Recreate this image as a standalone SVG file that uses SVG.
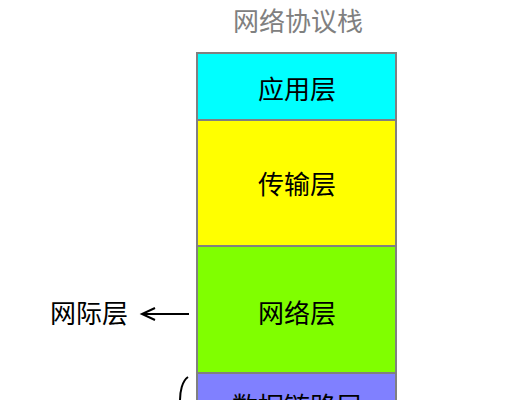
<svg xmlns="http://www.w3.org/2000/svg" width="521" height="400" viewBox="0 0 521 400">
<style>
.t{font-family:"Noto Sans CJK SC","Noto Sans CJK JP",sans-serif;font-size:26px;fill:#000;text-anchor:middle}
.layer{stroke:#808080;stroke-width:2}
</style>
<rect width="521" height="400" fill="#fff"/>
<text x="298" y="31" class="t" style="fill:#808080">网络协议栈</text>
<g id="app"><rect class="layer" x="197" y="53" width="199" height="67" fill="#00FFFF"/><text x="297" y="99" class="t">应用层</text></g>
<g id="transport"><rect class="layer" x="197" y="120" width="199" height="126" fill="#FFFF00"/><text x="297" y="194" class="t">传输层</text></g>
<g id="network"><rect class="layer" x="197" y="246" width="199" height="127" fill="#80FF00"/><text x="297" y="323" class="t">网络层</text></g>
<g id="datalink"><rect class="layer" x="197" y="373" width="199" height="40" fill="#8080FF"/><text x="297" y="416" class="t">数据链路层</text></g>
<g id="internet"><text x="89" y="323" class="t">网际层</text></g>
<g id="connectors" fill="none" stroke="#000" stroke-width="2">
<line x1="189" y1="314" x2="142" y2="314"/>
<polyline points="155,308 142,314 155,320"/>
<path d="M188,377 C182,381 180,392 180,400"/>
</g>
</svg>
